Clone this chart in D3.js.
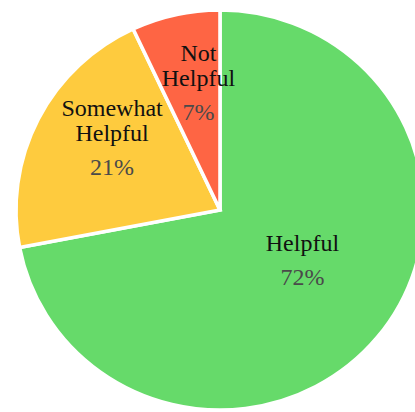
<!DOCTYPE html>
<html>
<head>
<meta charset="utf-8">
<script src="https://cdn.jsdelivr.net/npm/d3@7"></script>
<style>
  html, body { margin: 0; padding: 0; background: #ffffff; overflow: hidden; }
  svg { display: block; }
</style>
</head>
<body>
<svg id="chart" width="415" height="412"></svg>
<script>
// Survey answers and their shares
const categories = ["Helpful", "Somewhat Helpful", "Not Helpful"];
const labelLines = [["Helpful"], ["Somewhat", "Helpful"], ["Not", "Helpful"]];
const shares = [72, 21, 7];
const sliceColors = ["#66da6a", "#fecb3e", "#fe6544"];

const width = 415, height = 412;
const cx = 220, cy = 210, radius = 200;
const xStretch = 1.02; // pie is drawn very slightly wider than tall

// per-slice text placement: distance from centre and small angular nudge (degrees)
const labelRadius = [107, 116, 99];
const labelTurn = [0, -5.5, 0];

const svg = d3.select("#chart");
const root = svg.append("g").attr("transform", `translate(${cx},${cy})`);
const g = root.append("g").attr("transform", `scale(${xStretch},1)`);

const pie = d3.pie().sort(null).value(d => d.value);
const arcs = pie(categories.map((c, i) => ({ name: c, value: shares[i], lines: labelLines[i], color: sliceColors[i] })));

const arc = d3.arc().innerRadius(0).outerRadius(radius);

g.selectAll("path.slice")
  .data(arcs)
  .join("path")
  .attr("class", "slice")
  .attr("d", arc)
  .attr("fill", d => d.data.color)
  .attr("stroke", "#ffffff")
  .attr("stroke-width", 3.5)
  .attr("stroke-linejoin", "miter");

const font = "'Liberation Serif', 'Times New Roman', serif";
const fontSize = 24;
const lineGap = 25;
const pctGap = 34;

arcs.forEach((d, i) => {
  const mid = (d.startAngle + d.endAngle) / 2 + labelTurn[i] * Math.PI / 180;
  const r = labelRadius[i];
  const lab = d3.arc().innerRadius(r).outerRadius(r);
  const [px, py] = lab.centroid({ startAngle: mid, endAngle: mid });
  // percentage line sits at the anchor, name lines stacked above it
  const pctBase = py + 7;
  const text = root.append("g").attr("class", "slice-label");
  const n = d.data.lines.length;
  d.data.lines.forEach((line, k) => {
    text.append("text")
      .attr("x", px)
      .attr("y", pctBase - pctGap - (n - 1 - k) * lineGap)
      .attr("text-anchor", "middle")
      .attr("font-family", font)
      .attr("font-size", fontSize)
      .attr("fill", "#111111")
      .text(line);
  });
  text.append("text")
    .attr("x", px)
    .attr("y", pctBase)
    .attr("text-anchor", "middle")
    .attr("font-family", font)
    .attr("font-size", fontSize)
    .attr("fill", "#4a4a4a")
    .text(d3.format(".0f")(d.value) + "%");
});
</script>
</body>
</html>
